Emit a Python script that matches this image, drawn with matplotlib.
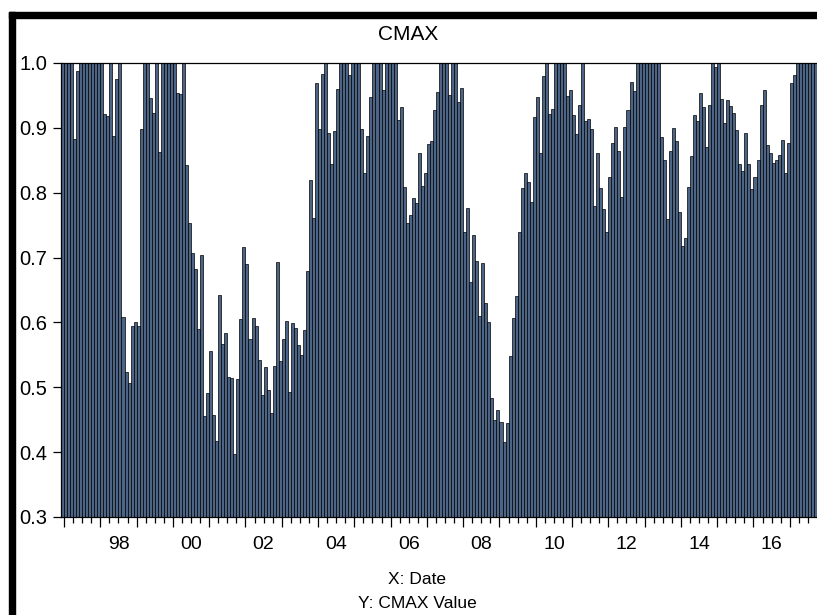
import matplotlib.pyplot as plt
import numpy as np
from matplotlib.patches import Rectangle

plt.rcParams['font.family'] = ['Liberation Sans', 'DejaVu Sans']

# monthly CMAX, first observation 1996M12
start_year, start_month = 1996, 12
cmax = [
    1.0, 1.0, 1.0, 1.0, 0.883, 0.988, 1.0, 1.0, 1.0, 1.0, 1.0, 1.0,
    1.0, 1.0, 0.921, 0.918, 1.0, 0.887, 0.976, 1.0, 0.609, 0.524, 0.507, 0.595,
    0.600, 0.594, 0.899, 1.0, 1.0, 0.946, 0.923, 1.0, 0.863, 1.0, 1.0, 1.0,
    1.0, 1.0, 0.953, 0.952, 1.0, 0.843, 0.753, 0.707, 0.682, 0.590, 0.704, 0.455,
    0.491, 0.556, 0.457, 0.417, 0.643, 0.566, 0.583, 0.516, 0.514, 0.397, 0.513, 0.605,
    0.717, 0.690, 0.575, 0.607, 0.595, 0.542, 0.488, 0.532, 0.496, 0.460, 0.533, 0.693,
    0.540, 0.575, 0.602, 0.493, 0.599, 0.592, 0.565, 0.550, 0.589, 0.679, 0.820, 0.761,
    0.969, 0.898, 0.983, 1.0, 0.892, 0.845, 0.895, 0.960, 1.0, 1.0, 1.0, 0.981,
    1.0, 1.0, 1.0, 0.899, 0.830, 0.888, 0.948, 1.0, 1.0, 1.0, 0.958, 1.0,
    1.0, 1.0, 1.0, 0.912, 0.932, 0.809, 0.753, 0.766, 0.792, 0.784, 0.862, 0.811,
    0.831, 0.875, 0.880, 0.928, 0.956, 1.0, 1.0, 1.0, 0.950, 1.0, 1.0, 0.940,
    0.962, 0.740, 0.776, 0.662, 0.735, 0.695, 0.610, 0.692, 0.630, 0.600, 0.484, 0.450,
    0.465, 0.446, 0.416, 0.445, 0.548, 0.607, 0.641, 0.740, 0.807, 0.831, 0.817, 0.785,
    0.916, 0.947, 0.862, 0.980, 1.0, 0.921, 0.929, 1.0, 1.0, 1.0, 1.0, 0.949,
    0.959, 0.920, 0.891, 0.936, 1.0, 0.910, 0.913, 0.899, 0.780, 0.862, 0.808, 0.775,
    0.740, 0.825, 0.877, 0.901, 0.865, 0.794, 0.902, 0.928, 0.971, 0.957, 1.0, 1.0,
    1.0, 1.0, 1.0, 1.0, 1.0, 1.0, 0.886, 0.851, 0.760, 0.865, 0.900, 0.879,
    0.770, 0.718, 0.730, 0.809, 0.857, 0.920, 0.911, 0.953, 0.932, 0.870, 0.935, 1.0,
    0.994, 1.0, 0.944, 0.908, 0.943, 0.933, 0.923, 0.897, 0.844, 0.833, 0.892, 0.844,
    0.805, 0.825, 0.850, 0.935, 0.958, 0.873, 0.862, 0.846, 0.851, 0.858, 0.881, 0.831,
    0.877, 0.969, 0.981, 1.0, 1.0, 1.0, 1.0, 1.0, 1.0, 1.0,
]
label_years = [1998, 2000, 2002, 2004, 2006, 2008, 2010, 2012, 2014, 2016]
year_labels = ["98", "00", "02", "04", "06", "08", "10", "12", "14", "16"]
yticks = [0.3, 0.4, 0.5, 0.6, 0.7, 0.8, 0.9, 1.0]


def month_pos(year, month):
    return (year - start_year) * 12 + (month - start_month)


n = len(cmax)
x = np.arange(n)

W, H = 817, 615
fig = plt.figure(figsize=(W / 100, H / 100), dpi=100)
ax = fig.add_axes([61 / W, 1 - 517 / H, (W - 61) / W, 454 / H])

ax.bar(x, cmax, width=1.0, align="edge", color="#4c6485",
       edgecolor="black", linewidth=0.5)

ax.set_xlim(0, n)
ax.set_ylim(0.3, 1.0)
ax.set_yticks(yticks)
ax.set_yticklabels([f"{v:.1f}" for v in yticks])

jan = [month_pos(y, 1) for y in range(1997, 2018)]
quarters = [month_pos(y, m) for y in range(1997, 2018) for m in (4, 7, 10)]
quarters = [q for q in quarters if q < n]
ax.set_xticks(jan)
ax.set_xticks(quarters, minor=True)
ax.tick_params(axis="x", which="major", length=7.5, width=0.9, labelbottom=False)
ax.tick_params(axis="x", which="minor", length=4.3, width=0.9)
ax.tick_params(axis="y", length=6, width=0.9, pad=4, labelsize=14.5)

for yr, lab in zip(label_years, year_labels):
    ax.text(month_pos(yr, 7), -0.06, lab, transform=ax.get_xaxis_transform(),
            ha="center", va="center", fontsize=14)

ax.spines["right"].set_visible(False)
for s in ("left", "top", "bottom"):
    ax.spines[s].set_linewidth(0.9)

fig.text(408 / W, 1 - 35 / H, "CMAX", ha="center", va="center", fontsize=15)
fig.text(417 / W, 1 - 580 / H, "X: Date", ha="center", va="center", fontsize=12.5)
fig.text(417 / W, 1 - 604 / H, "Y: CMAX Value", ha="center", va="center", fontsize=12.5)

# thick black frame on the left and top
fig.add_artist(Rectangle((9 / W, 0), 6 / W, (H - 12) / H,
                         transform=fig.transFigure, color="black"))
fig.add_artist(Rectangle((9 / W, 1 - 18 / H), (W - 9) / W, 6 / H,
                         transform=fig.transFigure, color="black"))

fig.savefig("out.png", dpi=100)
